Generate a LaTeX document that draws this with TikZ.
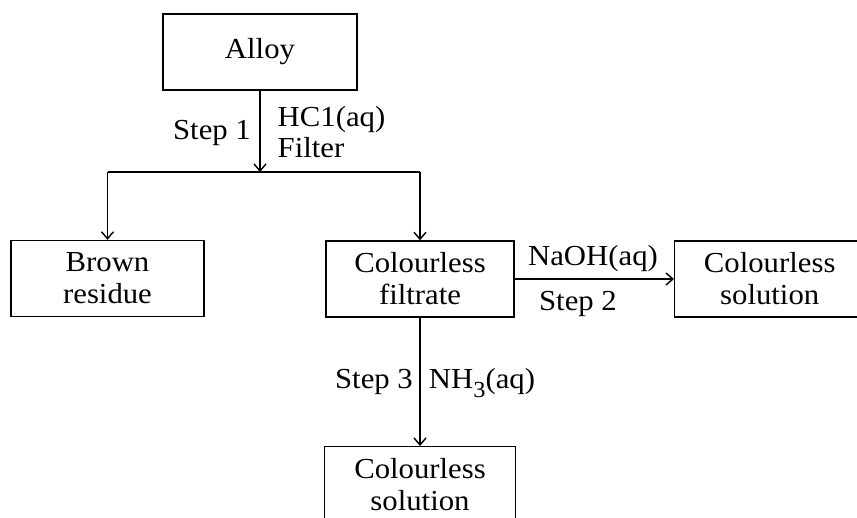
\documentclass[tikz,border=0pt]{standalone}
\usepackage{fontspec}
\setmainfont{Liberation Serif}[FakeStretch=1.06]
\usetikzlibrary{arrows.meta,positioning}

\begin{document}
\begin{tikzpicture}[
    x = 1pt, y = -1pt,
    > = {Straight Barb[length=7pt,width=12pt]},
    line width = 1.4pt,
    font = \fontsize{29}{32}\selectfont,
    box/.style={rectangle, draw, align=center, minimum height=76pt, inner sep=0pt},
    lbl/.style={anchor=base, inner sep=0pt}
]
    \useasboundingbox (0,0) rectangle (857,517);

    % process boxes
    \node[box, minimum width=194pt] (alloy) at (260,52) {Alloy};
    \node[box, minimum width=193pt] (brown) at (107.5,278.5) {Brown\\residue};
    \node[box, minimum width=188pt] (filtrate) at (420,279) {Colourless\\filtrate};
    \node[box, minimum width=190pt, anchor=west] (soln2) at (674,279) {Colourless\\solution};
    \node[box, minimum width=191pt, anchor=north] (soln3) at (420,446) {Colourless\\solution};

    % branch points after filtering
    \coordinate (split) at (260,172);
    \coordinate (splitL) at (107.5,172);
    \coordinate (splitR) at (420,172);

    \draw[->] (alloy) -- (split);
    \draw (splitL) -- (splitR);
    \draw[->] (splitL) -- (brown);
    \draw[->] (splitR) -- (filtrate);
    \draw[->] (filtrate) -- (soln2);
    \draw[->] (filtrate) -- (soln3);

    % step labels
    \node[lbl] (step1) at (212,139) {Step 1};
    \node[lbl, anchor=base west] (hcl) at (277,126) {HC1(aq)};
    \node[lbl, anchor=base west] (filter) at (277,157) {Filter};
    \node[lbl] (naoh) at (593,265) {NaOH(aq)};
    \node[lbl] (step2) at (578,310) {Step 2};
    \node[lbl] (step3) at (374,388) {Step 3};
    \node[lbl] (nh3) at (482,388) {NH\raisebox{-9pt}{\fontsize{23}{23}\selectfont 3}(aq)};
\end{tikzpicture}
\end{document}
